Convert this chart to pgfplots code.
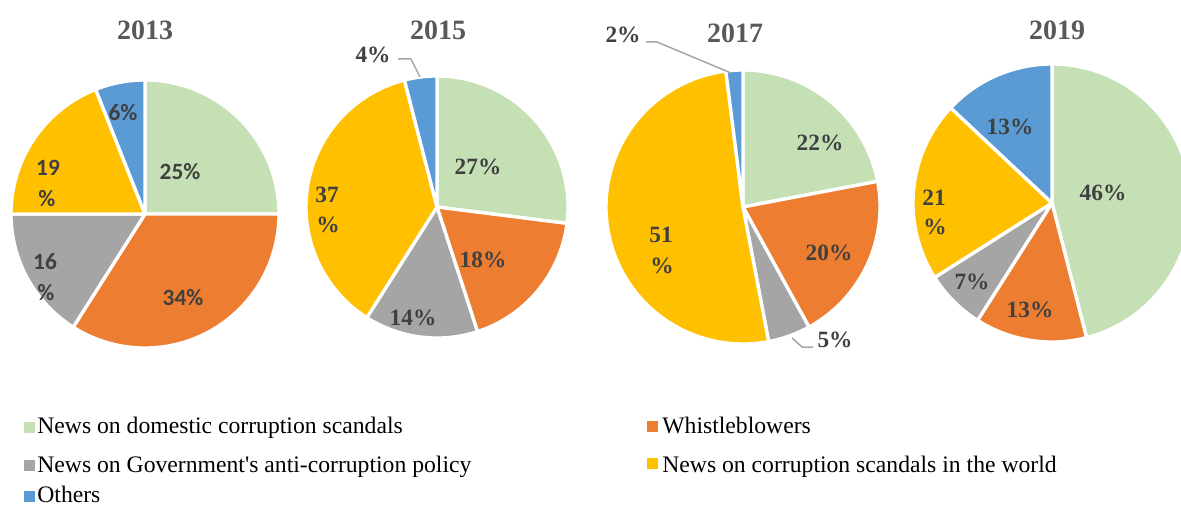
\documentclass[border=0pt]{standalone}
\usepackage{fontspec}
\setmainfont{Liberation Serif}
\newfontfamily\cali{Carlito}
\usepackage{pgfplots}
\pgfplotsset{compat=1.18}

\definecolor{cDom}{HTML}{C5E0B4}
\definecolor{cWhi}{HTML}{ED7D31}
\definecolor{cGov}{HTML}{A5A5A5}
\definecolor{cWor}{HTML}{FFC000}
\definecolor{cOth}{HTML}{5B9BD5}
\definecolor{lab}{HTML}{404040}
\definecolor{tit}{HTML}{595959}
\definecolor{lead}{HTML}{A6A6A6}

% one wedge: cx cy r angle-from angle-to colour
\newcommand\slice[6]{%
  \edef\tmp{\noexpand\addplot[draw=white, line width=2pt, line join=round, fill=#6,
    domain=#4:#5, samples=90, variable=\noexpand\t]
    ({#1+#3*cos(\noexpand\t)},{#2+#3*sin(\noexpand\t)}) -- (axis cs:#1,#2) -- cycle;}\tmp}
% one pie: cx cy r, then the five shares in percent (clockwise from 12 o'clock)
\newcommand\pie[8]{%
  \pgfmathsetmacro\aA{90}%
  \pgfmathsetmacro\aB{90-3.6*#4}%
  \pgfmathsetmacro\aC{\aB-3.6*#5}%
  \pgfmathsetmacro\aD{\aC-3.6*#6}%
  \pgfmathsetmacro\aE{\aD-3.6*#7}%
  \pgfmathsetmacro\aF{\aE-3.6*#8}%
  \slice{#1}{#2}{#3}{\aB}{\aA}{cDom}%
  \slice{#1}{#2}{#3}{\aC}{\aB}{cWhi}%
  \slice{#1}{#2}{#3}{\aD}{\aC}{cGov}%
  \slice{#1}{#2}{#3}{\aE}{\aD}{cWor}%
  \slice{#1}{#2}{#3}{\aF}{\aE}{cOth}%
}

\tikzset{
  lbl/.style={text=lab, inner sep=0pt, font=\fontsize{14pt}{14pt}\selectfont\bfseries},
  clbl/.style={text=lab, inner sep=0pt, font=\fontsize{14pt}{14pt}\selectfont\cali\bfseries},
  ttl/.style={text=tit, inner sep=0pt, font=\fontsize{16.8pt}{17pt}\selectfont\bfseries},
  leg/.style={text=black, inner sep=0pt, anchor=base west, font=\fontsize{14.2pt}{15pt}\selectfont},
}

\begin{document}
\begin{tikzpicture}
\useasboundingbox (0,0) rectangle (708.6pt,303.6pt);
\clip (0,0) rectangle (708.6pt,303.6pt);
\begin{axis}[at={(0,0)}, anchor=south west, scale only axis,
  width=708.6pt, height=303.6pt,
  xmin=0, xmax=1181, ymin=0, ymax=506, hide axis, clip=false]

% shares: domestic, whistleblowers, government, world, others
\pie{145}{292}{134}{25}{34}{16}{19}{6}   % 2013
\pie{437}{299}{131}{27}{18}{14}{37}{4}   % 2015
\pie{743}{299}{137}{22}{20}{5}{51}{2}    % 2017
\pie{1052}{303}{139}{46}{13}{7}{21}{13}  % 2019

% leader lines
\addplot[lead, line width=0.9pt] coordinates {(398,447) (411,447) (420,429)};
\addplot[lead, line width=0.9pt] coordinates {(646,464) (657,464) (731,433)};
\addplot[lead, line width=0.9pt] coordinates {(813,159) (802,159) (792,168)};

% legend markers
\addplot[only marks, mark=square*, mark size=3.1pt, color=cDom] coordinates {(29,79)};
\addplot[only marks, mark=square*, mark size=3.1pt, color=cGov] coordinates {(29,41)};
\addplot[only marks, mark=square*, mark size=3.1pt, color=cOth] coordinates {(29,10)};
\addplot[only marks, mark=square*, mark size=3.1pt, color=cWhi] coordinates {(652,80)};
\addplot[only marks, mark=square*, mark size=3.1pt, color=cWor] coordinates {(652,43)};

% titles
\node[ttl] at (axis cs:145,476) {2013};
\node[ttl] at (axis cs:438,476) {2015};
\node[ttl] at (axis cs:735,473) {2017};
\node[ttl] at (axis cs:1057,476) {2019};

% 2013 labels
\node[clbl] at (axis cs:123,393) {6\%};
\node[clbl] at (axis cs:180,334) {25\%};
\node[clbl] at (axis cs:48,338) {19};
\node[clbl] at (axis cs:47,307) {\%};
\node[clbl] at (axis cs:45,244) {16};
\node[clbl] at (axis cs:46,213) {\%};
\node[clbl] at (axis cs:183,208) {34\%};

% 2015 labels
\node[lbl] at (axis cs:373,451) {4\%};
\node[lbl] at (axis cs:478,339) {27\%};
\node[lbl] at (axis cs:327,311) {37};
\node[lbl] at (axis cs:328,281) {\%};
\node[lbl] at (axis cs:483,246) {18\%};
\node[lbl] at (axis cs:413,188) {14\%};

% 2017 labels
\node[lbl] at (axis cs:623,471) {2\%};
\node[lbl] at (axis cs:820,363) {22\%};
\node[lbl] at (axis cs:661,271) {51};
\node[lbl] at (axis cs:662,240) {\%};
\node[lbl] at (axis cs:829,253) {20\%};
\node[lbl] at (axis cs:835,166) {5\%};

% 2019 labels
\node[lbl] at (axis cs:1010,379) {13\%};
\node[lbl] at (axis cs:1103,313) {46\%};
\node[lbl] at (axis cs:934,308) {21};
\node[lbl] at (axis cs:935,279) {\%};
\node[lbl] at (axis cs:972,224) {7\%};
\node[lbl] at (axis cs:1030,196) {13\%};

% legend texts
\node[leg] at (axis cs:37,73) {News on domestic corruption scandals};
\node[leg] at (axis cs:37,34) {News on Government\textquotesingle s anti-corruption policy};
\node[leg] at (axis cs:37,4) {Others};
\node[leg] at (axis cs:662,73) {Whistleblowers};
\node[leg] at (axis cs:662,34) {News on corruption scandals in the world};
\end{axis}
\end{tikzpicture}
\end{document}
